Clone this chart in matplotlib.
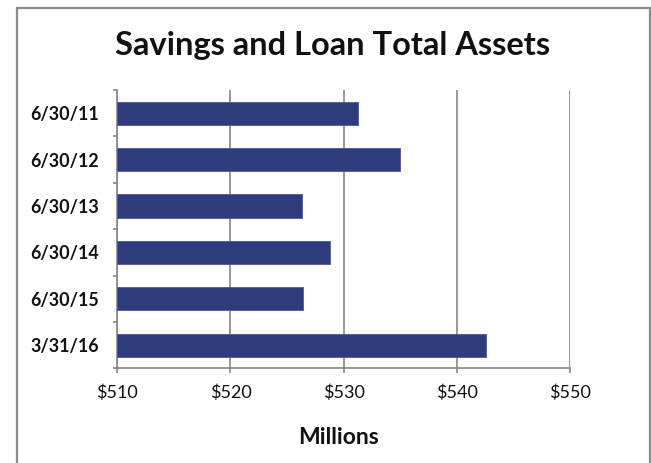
import matplotlib
matplotlib.use("Agg")
import matplotlib.pyplot as plt
from matplotlib.patches import Rectangle
from matplotlib.ticker import FixedLocator

# Savings and loan total assets, in millions of dollars
dates = ["6/30/11", "6/30/12", "6/30/13", "6/30/14", "6/30/15", "3/31/16"]
assets = [531.3, 535.0, 526.3, 528.8, 526.4, 542.6]
x_ticks = [510, 520, 530, 540, 550]
x_tick_labels = ["$510", "$520", "$530", "$540", "$550"]

W, H = 651, 463
fig = plt.figure(figsize=(W / 100, H / 100), dpi=100)
fig.patch.set_facecolor("white")

# outer chart frame
fig.patches.append(Rectangle((17 / W, -0.05), (650 - 17) / W, 1.05 - 8 / H,
                             transform=fig.transFigure, fill=False,
                             edgecolor="#8c8c8c", linewidth=1.6))

left, right, top, bottom = 117.3, 570, 90, 368.3
ax = fig.add_axes([left / W, 1 - bottom / H, (right - left) / W, (bottom - top) / H])

grid_c = "#868686"
ypos = list(range(len(dates)))
ax.barh(ypos, [a - x_ticks[0] for a in assets], left=x_ticks[0], height=0.5,
        color="#2E3B7D", edgecolor="#4B5A9C", linewidth=0.6, zorder=3)

ax.set_xlim(x_ticks[0], x_ticks[-1])
ax.set_ylim(len(dates) - 0.5, -0.5)
ax.set_xticks(x_ticks)
ax.set_xticklabels(x_tick_labels, fontfamily="Lato", fontsize=13, color="#111111")
ax.set_yticks(ypos)
ax.set_yticklabels(dates, fontfamily="Lato", fontweight="bold", fontsize=12.9, color="#111111")
ax.yaxis.set_minor_locator(FixedLocator([i - 0.5 for i in range(len(dates) + 1)]))

ax.tick_params(axis="y", which="major", length=0, pad=13.5)
ax.tick_params(axis="y", which="minor", length=2.8, width=1.2, color=grid_c, direction="out")
ax.tick_params(axis="x", which="major", length=3.8, width=1.2, color=grid_c, direction="out", pad=8)

ax.grid(axis="x", color=grid_c, linewidth=1.2, zorder=0)
ax.set_axisbelow(True)
for s in ["top", "right"]:
    ax.spines[s].set_visible(False)
for s in ["left", "bottom"]:
    ax.spines[s].set_color(grid_c)
    ax.spines[s].set_linewidth(1.2)

fig.text(332.5 / W, 1 - 55 / H, "Savings and Loan Total Assets", ha="center", va="baseline",
         fontfamily="Lato", fontweight="bold", fontsize=23.5, color="#111111")
fig.text(338.7 / W, 1 - 443.5 / H, "Millions", ha="center", va="baseline",
         fontfamily="Lato", fontweight="bold", fontsize=16.5, color="#111111")

fig.savefig("out.png", dpi=100, facecolor="white")
